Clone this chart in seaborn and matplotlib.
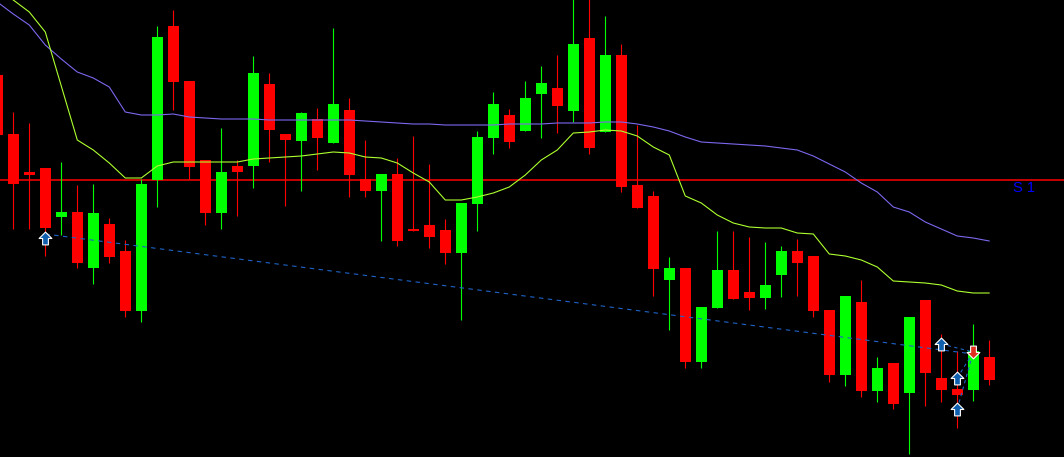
import pandas as pd
import matplotlib
matplotlib.use("Agg")
import matplotlib.pyplot as plt
from matplotlib.path import Path
import seaborn as sns

# bar number, OHLC (price in chart points)
bar_index = list(range(-1, 62))
opens = [385, 326, 288, 292, 243, 248, 192, 236, 209, 149, 280, 434, 379, 300, 247,
         294, 294, 376, 326, 319, 341, 317, 350, 281, 269, 286, 231, 235, 230, 207,
         256, 322, 345, 329, 366, 372, 349, 422, 328, 405, 275, 264, 180, 192, 98,
         152, 190, 168, 162, 185, 209, 204, 150, 85, 158, 69, 97, 67, 160, 82,
         71, 70, 103]
highs = [385, 348, 337, 292, 298, 275, 276, 242, 220, 281, 434, 450, 379, 300, 332,
         300, 404, 387, 326, 348, 352, 432, 362, 320, 286, 302, 324, 296, 241, 257,
         329, 368, 351, 379, 394, 405, 470, 470, 444, 416, 335, 269, 203, 192, 153,
         229, 229, 223, 218, 214, 221, 204, 150, 164, 180, 103, 97, 143, 160, 126,
         109, 136, 120]
lows = [325, 231, 231, 204, 225, 192, 176, 197, 143, 138, 253, 350, 281, 235, 231,
        244, 272, 298, 254, 269, 290, 317, 263, 263, 219, 214, 229, 212, 196, 140,
        229, 306, 312, 329, 322, 327, 338, 306, 328, 268, 252, 164, 130, 92, 92,
        152, 161, 150, 151, 163, 164, 143, 78, 74, 63, 58, 51, 6, 54, 58,
        32, 59, 75]
closes = [325, 276, 285, 232, 248, 197, 247, 203, 149, 276, 423, 378, 293, 247, 288,
          288, 387, 330, 320, 347, 322, 356, 285, 269, 286, 219, 229, 223, 207, 257,
          323, 356, 318, 362, 377, 354, 416, 312, 405, 273, 252, 191, 192, 98, 153,
          190, 161, 162, 175, 209, 197, 149, 85, 164, 69, 92, 56, 143, 87, 70,
          65, 109, 80]

# moving averages
ma_slow = [458, 446, 435, 415, 401, 388, 382, 373, 348, 345, 345, 346, 343, 342, 341,
           341, 341, 340, 340, 340, 340, 340, 340, 339, 338, 337, 336, 336, 335, 335,
           335, 335, 336, 336, 336, 337, 337, 337, 338, 338, 336, 333, 329, 323, 318,
           317, 316, 315, 314, 312, 310, 304, 296, 288, 277, 268, 253, 248, 238, 231,
           224, 222, 219]
ma_fast = [470, 460, 448, 428, 374, 320, 310, 297, 282, 282, 294, 298, 298, 298, 298,
           298, 301, 302, 303, 304, 306, 308, 307, 303, 302, 297, 287, 278, 260, 260,
           263, 267, 273, 285, 300, 310, 327, 328, 330, 329, 324, 313, 305, 264, 257,
           245, 237, 233, 232, 232, 227, 226, 206, 204, 200, 193, 179, 178, 177, 175,
           169, 167, 167]

support_level = 280
support_label = "S 1"

trend_bars = [2, 60]
trend_prices = [226, 106]

buy_bars = [2, 58, 59, 59]
buy_prices = [222, 116, 82, 51]
sell_bars = [60]
sell_prices = [108]

df = pd.DataFrame({"bar": bar_index, "open": opens, "high": highs, "low": lows,
                   "close": closes, "ma_slow": ma_slow, "ma_fast": ma_fast})
df["up"] = df["close"] >= df["open"]
df["color"] = df["up"].map({True: "#00FF00", False: "#FF0000"})
df["body_lo"] = df[["open", "close"]].min(axis=1)
df["body_h"] = (df["open"] - df["close"]).abs().clip(lower=2)

sns.set_style("dark", {"axes.facecolor": "black", "figure.facecolor": "black"})

fig = plt.figure(figsize=(10.64, 4.57), dpi=100, facecolor="black")
ax = fig.add_axes([0, 0, 1, 1])
ax.set_facecolor("black")

# support line
ax.axhline(support_level, color="#FF0000", lw=1.1, zorder=1)
ax.text(62.5, support_level - 8, support_label, color="#0000FF", fontsize=10.5,
        ha="left", va="center", family=["Liberation Sans", "DejaVu Sans"])

# candles
ax.vlines(df["bar"], df["low"], df["high"], colors=df["color"], lw=0.8, zorder=2)
ax.bar(df["bar"], df["body_h"], bottom=df["body_lo"], width=0.69,
       color=df["color"], linewidth=0, zorder=3)

# moving averages
sns.lineplot(data=df, x="bar", y="ma_slow", color="#7B68EE", lw=0.8, ax=ax,
             legend=False, zorder=4)
sns.lineplot(data=df, x="bar", y="ma_fast", color="#ADFF2F", lw=0.8, ax=ax,
             legend=False, zorder=4)

# trend line and signal links
dash_col = "#1E64C8"
ax.plot(trend_bars, trend_prices, color=dash_col, lw=0.8, ls=(0, (4, 4)), zorder=5)
for bx, by in zip(buy_bars[1:], buy_prices[1:]):
    ax.plot([bx, sell_bars[0]], [by, sell_prices[0]], color=dash_col, lw=0.8,
            ls=(0, (3, 3)), zorder=5)

up_arrow = Path([(0, 1), (1, 0), (0.45, 0), (0.45, -1), (-0.45, -1), (-0.45, 0),
                 (-1, 0), (0, 1)], closed=True)
down_arrow = Path([(0, -1), (1, 0), (0.45, 0), (0.45, 1), (-0.45, 1), (-0.45, 0),
                   (-1, 0), (0, -1)], closed=True)
ax.scatter(buy_bars, buy_prices, marker=up_arrow, s=85, color="#1060B0",
           edgecolors="white", linewidths=0.8, zorder=6)
ax.scatter(sell_bars, sell_prices, marker=down_arrow, s=85, color="#E03020",
           edgecolors="white", linewidths=0.8, zorder=6)

ax.set_xlim(-0.83, 65.67)
ax.set_ylim(3, 460)
ax.set_xlabel("")
ax.set_ylabel("")
ax.set_xticks([])
ax.set_yticks([])
for s in ax.spines.values():
    s.set_visible(False)

fig.savefig("out.png", dpi=100, facecolor="black")
